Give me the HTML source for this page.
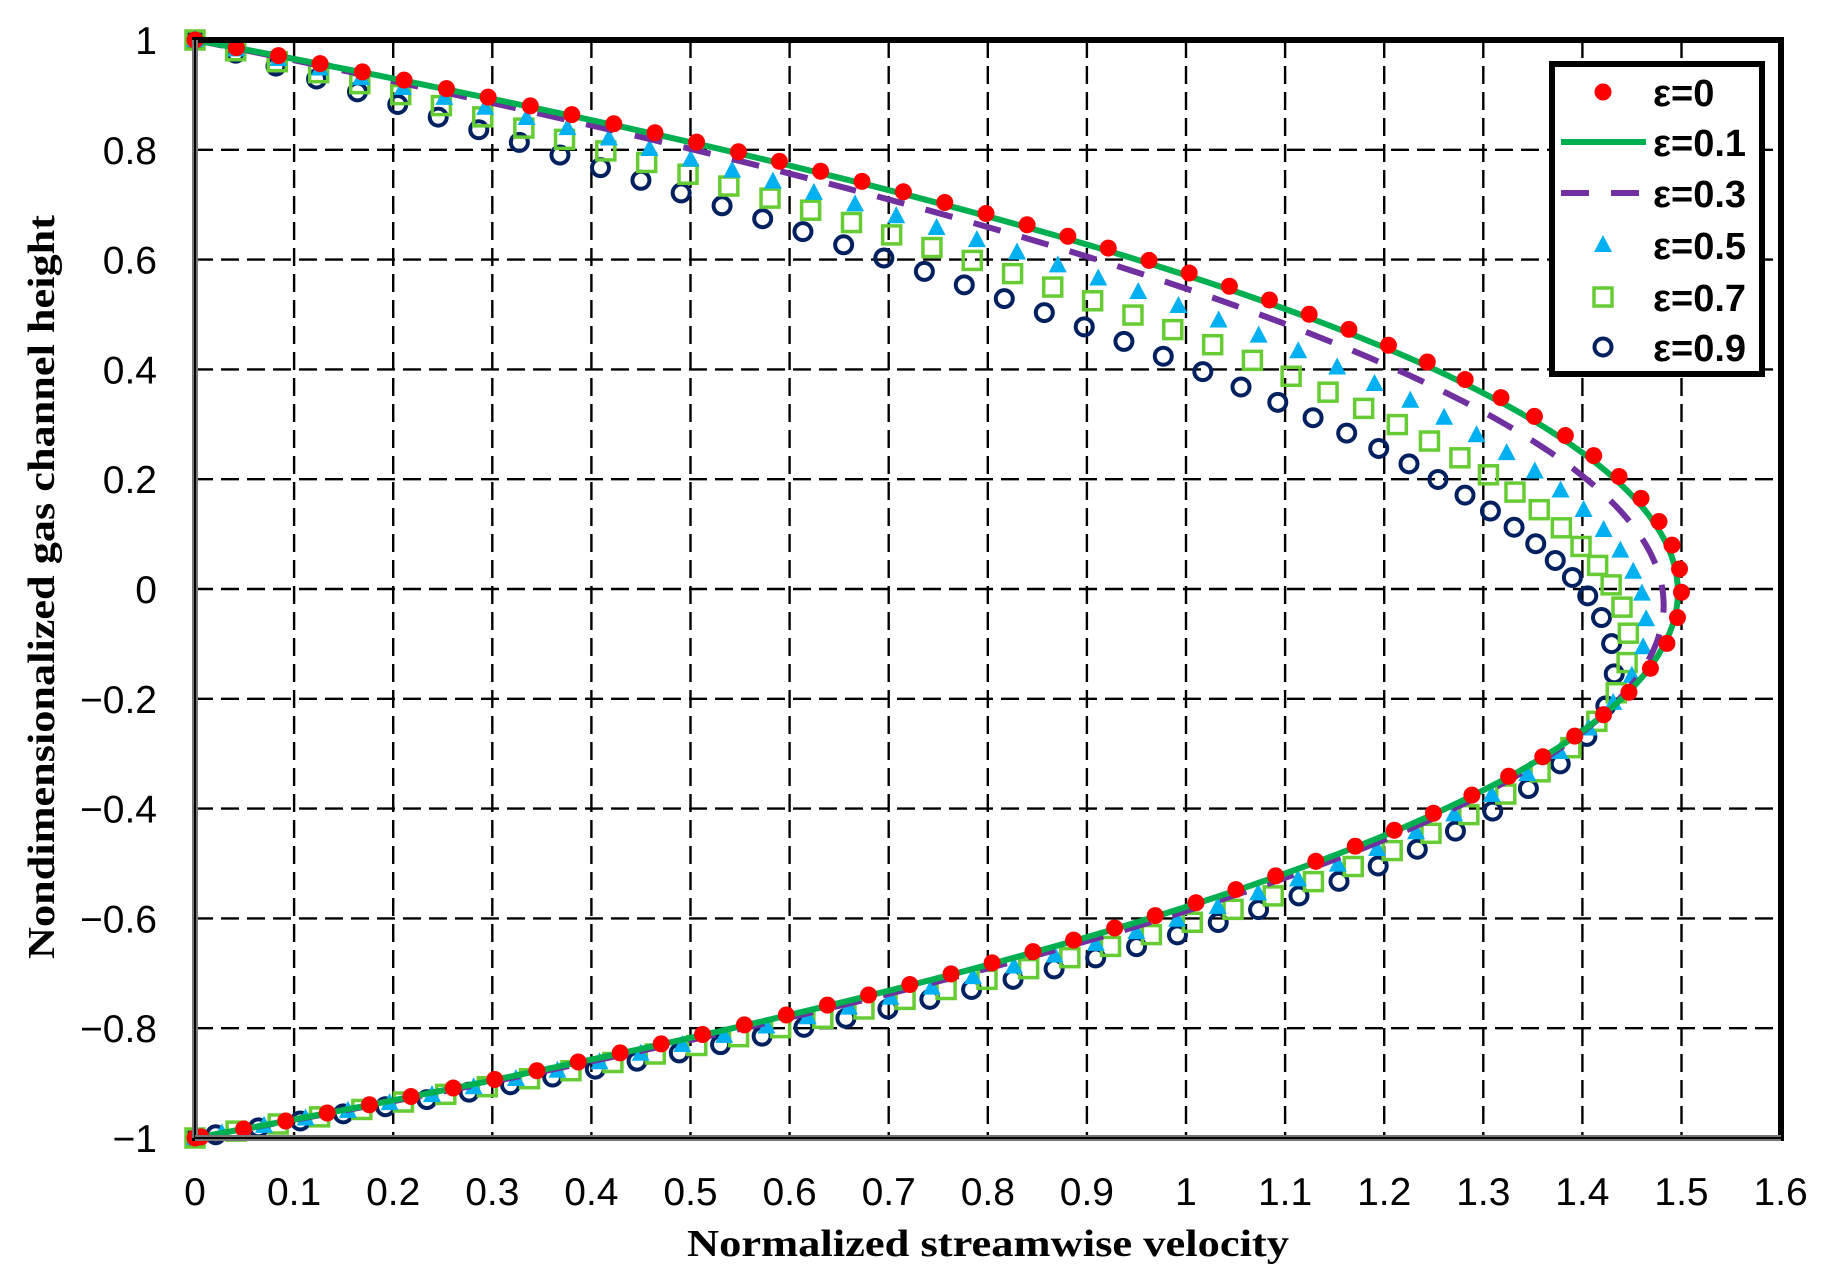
<!DOCTYPE html>
<html><head><meta charset="utf-8"><style>
html,body{margin:0;padding:0;background:#fff;}
svg{display:block;}
</style></head><body>
<svg id="s" width="1828" height="1285" xmlns="http://www.w3.org/2000/svg" font-family="Liberation Sans, sans-serif">
<rect width="1828" height="1285" fill="#fff"/>
<g id="grid" stroke="#000" stroke-width="2.4" stroke-dasharray="18,8"></g>
<g id="data"></g>
<rect x="195" y="40" width="1586" height="1098" fill="none" stroke="#000" stroke-width="6"/>
<line x1="195" y1="40" x2="195" y2="1138" stroke="#777" stroke-width="6"/>
<line x1="195" y1="40" x2="195" y2="1138" stroke="#000" stroke-width="2"/>
<line x1="195" y1="1138" x2="1781" y2="1138" stroke="#777" stroke-width="6"/>
<line x1="195" y1="1138" x2="1781" y2="1138" stroke="#000" stroke-width="2"/>
<g id="ticks" font-size="39" fill="#000"></g>
<text x="988" y="1256" font-family="Liberation Serif, serif" font-weight="bold" font-size="38" text-anchor="middle" textLength="602" lengthAdjust="spacingAndGlyphs">Normalized streamwise velocity</text>
<text transform="translate(54,587) rotate(-90)" font-family="Liberation Serif, serif" font-weight="bold" font-size="38" text-anchor="middle" textLength="744" lengthAdjust="spacingAndGlyphs">Nondimensionalized gas channel height</text>
<g id="legend">
<rect x="1552" y="64" width="210" height="310" fill="#fff" stroke="#000" stroke-width="6"/>
</g>
</svg>
<script>
var NS="http://www.w3.org/2000/svg";
function el(p,t,a){var e=document.createElementNS(NS,t);for(var k in a)e.setAttribute(k,a[k]);document.getElementById(p).appendChild(e);return e;}
function X(u){return 195+991*u;}
function Y(y){return 589-549*y;}
for(var i=1;i<16;i++){var x=X(i/10);el('grid','line',{x1:x,y1:40,x2:x,y2:1138});}
for(var j=-4;j<=4;j++){var y=Y(j*0.2);el('grid','line',{x1:195,y1:y,x2:1781,y2:y});}
for(var i=0;i<=16;i++){var t=el('ticks','text',{x:X(i/10),y:1205,'text-anchor':'middle'});t.textContent=(i==0?'0':(i%10==0?String(i/10):(i/10).toFixed(1)));}
var yl=['1','0.8','0.6','0.4','0.2','0','\u22120.2','\u22120.4','\u22120.6','\u22120.8','\u22121'];
for(var j=0;j<=10;j++){var t=el('ticks','text',{x:157,y:Y(1-j*0.2)+14,'text-anchor':'end'});t.textContent=yl[j];}
function prof(t,y){var F=(1-t)*1.5+t*(1.40-0.45*y-0.1*y*y);return Math.max(0,(1-y*y)*F);}
function pts(t){var arr=[],y=1,step=0.0005,acc=0,sp=42;var px=X(prof(t,1)),py=Y(1);arr.push([px,py]);
 while(y>-1){y-=step;var nx=X(prof(t,y)),ny=Y(y);acc+=Math.hypot(nx-px,ny-py);px=nx;py=ny;var s=sp*(0.55+0.45*Math.min(1,Math.abs(y)*2.5));if(acc>=s){arr.push([nx,ny]);acc=0;}}
 arr.push([X(0),Y(-1)]);return arr;}
function line(t){var d='';for(var y=1;y>=-1.0001;y-=0.01){d+=(d?'L':'M')+X(prof(t,y)).toFixed(1)+','+Y(y).toFixed(1);}return d;}
var T=function(e){return Math.pow(e/0.9,1.5);};
pts(1).forEach(function(p){el('data','circle',{cx:p[0],cy:p[1],r:8.5,fill:'none',stroke:'#002060','stroke-width':4});});
pts(T(0.7)).forEach(function(p){el('data','rect',{x:p[0]-9,y:p[1]-9,width:18,height:18,fill:'none',stroke:'#66cc33','stroke-width':3.5});});
pts(T(0.5)).forEach(function(p){el('data','polygon',{points:(p[0])+','+(p[1]-10)+' '+(p[0]-9)+','+(p[1]+7)+' '+(p[0]+9)+','+(p[1]+7),fill:'#00b0f0'});});
el('data','path',{d:line(T(0.3)),fill:'none',stroke:'#7030a0','stroke-width':6,'stroke-dasharray':'28,22'});
el('data','path',{d:line(T(0.1)),fill:'none',stroke:'#00b050','stroke-width':6});
pts(0).forEach(function(p){el('data','circle',{cx:p[0],cy:p[1],r:8.5,fill:'#ff0000'});});
var ly=[92,142,193,245,297,347],lt=['\u03b5=0','\u03b5=0.1','\u03b5=0.3','\u03b5=0.5','\u03b5=0.7','\u03b5=0.9'],cx=1603;
el('legend','circle',{cx:cx,cy:ly[0],r:8.5,fill:'#ff0000'});
el('legend','line',{x1:1561,y1:ly[1],x2:1646,y2:ly[1],stroke:'#00b050','stroke-width':6});
el('legend','line',{x1:1561,y1:ly[2],x2:1646,y2:ly[2],stroke:'#7030a0','stroke-width':6,'stroke-dasharray':'28,22'});
el('legend','polygon',{points:cx+','+(ly[3]-10)+' '+(cx-9)+','+(ly[3]+7)+' '+(cx+9)+','+(ly[3]+7),fill:'#00b0f0'});
el('legend','rect',{x:cx-9,y:ly[4]-9,width:18,height:18,fill:'none',stroke:'#66cc33','stroke-width':3.5});
el('legend','circle',{cx:cx,cy:ly[5],r:8.5,fill:'none',stroke:'#002060','stroke-width':4});
for(var i=0;i<6;i++){var t=el('legend','text',{x:1653,y:ly[i]+14,'font-size':38,'font-weight':'bold'});t.textContent=lt[i];}
</script>
</body></html>
